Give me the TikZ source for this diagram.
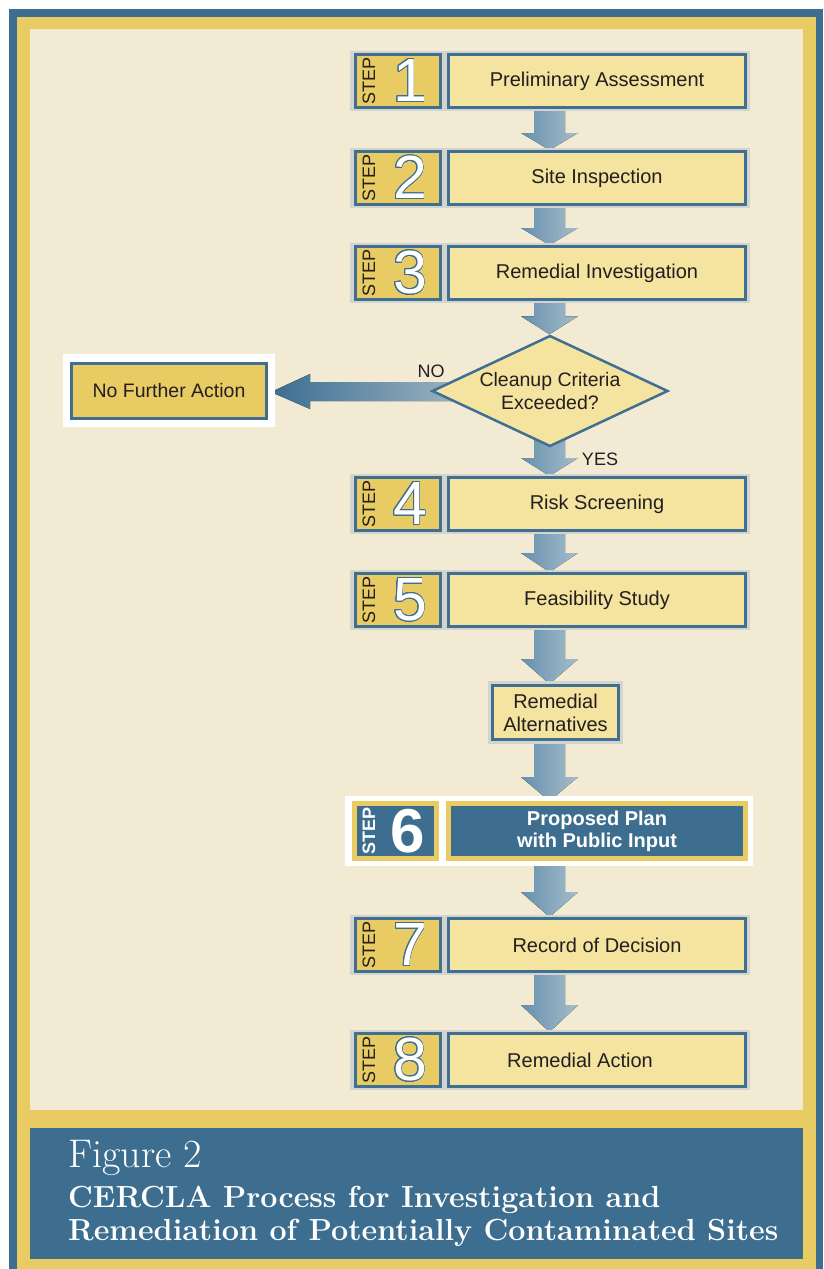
\documentclass[tikz,border=0pt]{standalone}
\usepackage{fontspec}
\setsansfont{Liberation Sans}
\usepackage[copies]{contour}
\usetikzlibrary{shapes.geometric,calc}
\definecolor{frameblue}{HTML}{3D6E8F}
\definecolor{frameyel}{HTML}{E8CC63}
\definecolor{cream}{HTML}{F3EAD3}
\definecolor{boxyel}{HTML}{F5E3A0}
\definecolor{boxblue}{HTML}{3F6F91}
\definecolor{graybg}{HTML}{D3D3D0}
\definecolor{arrdark}{HTML}{6590AE}
\definecolor{arrlight}{HTML}{A5BDCA}
\definecolor{noarrdark}{HTML}{3C6D92}
\definecolor{noarrlight}{HTML}{C9D5D6}
\definecolor{txt}{HTML}{231F20}
\pgfdeclarelayer{back}
\pgfdeclarelayer{arrows}
\pgfsetlayers{back,arrows,main}
\contourlength{0.9pt}
\contournumber{24}
\tikzset{
  badge/.style={draw=boxblue,line width=3pt,fill=frameyel,minimum width=85pt,minimum height=53pt,inner sep=0pt},
  mainbox/.style={draw=boxblue,line width=3pt,fill=boxyel,minimum width=297pt,minimum height=53pt,inner sep=0pt,text=txt,font=\sffamily\fontsize{20}{23}\selectfont,align=center},
  steplbl/.style={rotate=90,inner sep=0pt,text=txt,font=\sffamily\fontsize{18}{18}\selectfont},
  digit/.style={inner sep=0pt,text=white,font=\sffamily\fontsize{61}{61}\selectfont},
  arrowshade/.style={left color=arrdark,right color=arrlight},
  lbl/.style={inner sep=0pt,text=txt,font=\sffamily\fontsize{18}{18}\selectfont},
  titletxt/.style={inner sep=0pt,text=white,anchor=base west}
}
\newcommand\cstep[4]{%
  \fill[graybg] (350,#2-30) rectangle (750,#2+30);
  \node[badge] (#1b) at (398,#2) {};
  \node[steplbl] (#1s) at (369,#2) {STEP};
  \node[digit] (#1d) at (410,#2) {\contour{boxblue}{#3}};
  \node[mainbox] (#1) at (597,#2) {#4};
}
\newcommand\varr[5]{%
  \begin{pgfonlayer}{arrows}
  \fill[arrowshade] let \p1=(#1.#2), \p2=(#3.#4) in
    (534pt,\y1) -- (534pt,\y2+#5) -- (521pt,\y2+#5) -- (549.5pt,\y2) -- (578pt,\y2+#5) -- (565pt,\y2+#5) -- (565pt,\y1) -- cycle;
  \end{pgfonlayer}
}
\begin{document}
\begin{tikzpicture}[x=1pt,y=-1pt]
\useasboundingbox (0,0) rectangle (823,1269);
\begin{pgfonlayer}{back}
\fill[white] (0,0) rectangle (823,1269);
\fill[frameblue] (9,9) rectangle (823,1269);
\fill[frameyel] (17,17) rectangle (816,1269);
\fill[cream] (30,29) rectangle (803,1110);
\fill[frameblue] (30,1128) rectangle (803,1259);
\end{pgfonlayer}

\cstep{s1}{81}{1}{Preliminary Assessment}
\cstep{s2}{178}{2}{Site Inspection}
\cstep{s3}{273}{3}{Remedial Investigation}
\cstep{s4}{504}{4}{Risk Screening}
\cstep{s5}{600}{5}{Feasibility Study}
\cstep{s7}{945}{7}{Record of Decision}
\cstep{s8}{1060}{8}{Remedial Action\hspace*{34pt}}

% decision
\node[diamond,draw=boxblue,line width=2.5pt,fill=boxyel,minimum width=236pt,minimum height=111pt,inner sep=0pt,aspect=2.13,
  text=txt,font=\sffamily\fontsize{19.5}{23}\selectfont,align=center] (d) at (550,391) {\raisebox{-5pt}{\parbox{150pt}{\centering Cleanup Criteria\\Exceeded?}}};
\node[lbl] (no) at (431,371) {NO};
\node[lbl] (yes) at (600,459) {YES};

% no further action
\fill[white] (63,354) rectangle (275,427);
\node[draw=boxblue,line width=3pt,fill=frameyel,minimum width=195pt,minimum height=55pt,inner sep=0pt,
  text=txt,font=\sffamily\fontsize{19.5}{23}\selectfont] (nfa) at (169,391) {No Further Action};

% remedial alternatives
\fill[graybg] (488,681) rectangle (623,744);
\node[mainbox,minimum width=126pt,minimum height=54pt] (ra) at (555.5,712.5) {Remedial\\Alternatives};

% step 6
\fill[white] (345,796) rectangle (753,866);
\node[draw=frameyel,line width=5pt,fill=frameblue,minimum width=82pt,minimum height=55pt,inner sep=0pt] (s6b) at (395.5,831) {};
\node[steplbl,text=white,font=\sffamily\bfseries\fontsize{18}{18}\selectfont] (s6s) at (369,831) {STEP};
\node[digit,font=\sffamily\bfseries\fontsize{62}{62}\selectfont] (s6d) at (408,831) {6};
\node[draw=frameyel,line width=5pt,fill=frameblue,minimum width=297pt,minimum height=55pt,inner sep=0pt,
  text=white,font=\sffamily\bfseries\fontsize{20}{22}\selectfont,align=center] (s6) at (597,831) {Proposed Plan\\with Public Input};

% arrows
\varr{s1}{south}{s2}{north}{17pt}
\varr{s2}{south}{s3}{north}{17pt}
\varr{s3}{south}{d}{north}{18pt}
\varr{d}{center}{s4}{north}{18pt}
\varr{s4}{south}{s5}{north}{19pt}
\varr{s5}{south}{ra}{north}{25pt}
\varr{ra}{south}{s6}{north}{24pt}
\varr{s6}{south}{s7}{north}{25pt}
\varr{s7}{south}{s8}{north}{27pt}
\begin{pgfonlayer}{arrows}
\fill[left color=noarrdark,right color=noarrlight] let \p1=(d.center), \p2=(nfa.east) in
  (\x1,-382pt) -- (310pt,-382pt) -- (310pt,-374pt) -- (\x2+3pt,-392pt) -- (310pt,-409pt) -- (310pt,-401pt) -- (\x1,-401pt) -- cycle;
\end{pgfonlayer}

% title
\node[titletxt,font=\fontsize{40}{40}\selectfont] (fig) at (68,1167) {Figure 2};
\node[titletxt,font=\bfseries\fontsize{30.5}{30.5}\selectfont] (t1) at (68,1207) {CERCLA Process for Investigation and};
\node[titletxt,font=\bfseries\fontsize{30.5}{30.5}\selectfont] (t2) at (68,1240) {Remediation of Potentially Contaminated Sites};
\end{tikzpicture}
\end{document}
